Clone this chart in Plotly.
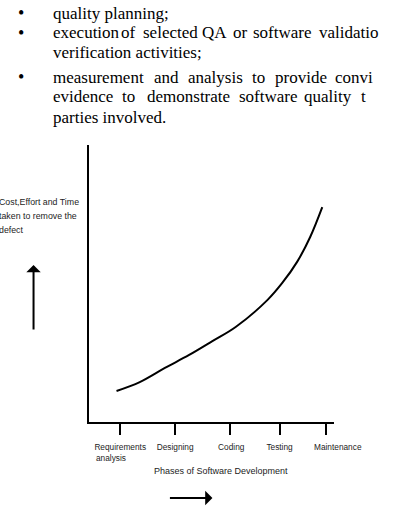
import plotly.graph_objects as go

# ---- data ----
phases = ["Requirements<br>analysis\u00a0\u00a0\u00a0\u00a0\u00a0\u00a0\u00a0\u00a0",
          "Designing", "\u00a0Coding", "Testing",
          "\u00a0\u00a0\u00a0\u00a0\u00a0\u00a0\u00a0\u00a0\u00a0\u00a0Maintenance"]
phase_pos = [1.0, 2.0, 3.0, 3.9, 4.75]
curve_x = [0.933, 1.356, 1.814, 2.255, 2.678, 3.102, 3.678, 3.95, 4.22, 4.458, 4.678]
curve_y = [11.2, 14.4, 19.5, 24.2, 29.2, 34.3, 44.0, 50.2, 57.8, 66.8, 77.6]

W, H = 395, 517

def px(x):
    return x / W

def py(y):
    return 1 - y / H

fig = go.Figure()
fig.add_trace(go.Scatter(x=curve_x, y=curve_y, mode="lines",
                         line=dict(color="black", width=2, shape="spline", smoothing=1.0),
                         hoverinfo="skip", showlegend=False))

sans = "Liberation Sans, Arial, sans-serif"
serif = "Liberation Serif, Times New Roman, serif"
gray = "#1c1c1c"
FS = 17

fig.update_layout(
    width=W, height=H,
    margin=dict(l=0, r=0, t=0, b=0),
    paper_bgcolor="white", plot_bgcolor="white",
    showlegend=False,
    xaxis=dict(domain=[px(96), px(359)], range=[0.44, 4.90],
               showgrid=False, zeroline=False, showline=True, linecolor="black", linewidth=2,
               ticks="outside", ticklen=11, tickwidth=2, tickcolor="black",
               tickvals=phase_pos, ticktext=phases, ticklabelstandoff=5, tickangle=0,
               tickfont=dict(family=sans, size=8.3, color=gray),
               fixedrange=True),
    yaxis=dict(domain=[py(422), py(145)], range=[0, 100],
               showgrid=False, zeroline=False, showline=True, linecolor="black", linewidth=2,
               showticklabels=False, ticks="", fixedrange=True),
)

ann = []

def word(xx, yy, w):
    ann.append(dict(x=px(xx), y=py(yy), xref="paper", yref="paper", text=w,
                    showarrow=False, xanchor="left", yanchor="middle",
                    borderpad=0, borderwidth=0,
                    font=dict(family=serif, size=FS, color="black")))

for yy in (13, 33, 77):
    ann.append(dict(x=px(23), y=py(yy), xref="paper", yref="paper", text="\u2022",
                    showarrow=False, xanchor="center", yanchor="middle",
                    font=dict(family=serif, size=18, color="black")))

word(57, 13, "quality planning;")
for xx, w in [(57, "execution"), (130, "of"), (153, "selected"), (217, "QA"), (250, "or"),
              (272, "software"), (342, "validatio")]:
    word(xx, 33, w)
word(57, 53, "verification activities;")
for xx, w in [(57, "measurement"), (165, "and"), (202, "analysis"), (270, "to"), (295, "provide"), (360, "convi")]:
    word(xx, 77, w)
for xx, w in [(57, "evidence"), (131, "to"), (158, "demonstrate"), (256, "software"), (326, "quality"), (388, "t")]:
    word(xx, 97, w)
word(57, 117, "parties involved.")

for yy, t in [(202, "Cost,Effort and Time"), (216, "taken to remove the"), (230, "defect")]:
    ann.append(dict(x=px(-3), y=py(yy), xref="paper", yref="paper", text=t,
                    showarrow=False, xanchor="left", yanchor="middle",
                    font=dict(family=sans, size=8.8, color=gray)))

ann.append(dict(x=px(36), y=py(265), xref="paper", yref="paper", text="",
                showarrow=True, arrowhead=1, arrowsize=1.2, arrowwidth=2, arrowcolor="black",
                ax=0, ay=66))

ann.append(dict(x=px(237), y=py(471), xref="paper", yref="paper", text="Phases of Software Development",
                showarrow=False, xanchor="center", yanchor="middle",
                font=dict(family=sans, size=9, color=gray)))

ann.append(dict(x=px(228), y=py(498), xref="paper", yref="paper", text="",
                showarrow=True, arrowhead=1, arrowsize=1.2, arrowwidth=2, arrowcolor="black",
                ax=-44, ay=0))

fig.update_layout(annotations=ann)
fig.write_html("out.html")
